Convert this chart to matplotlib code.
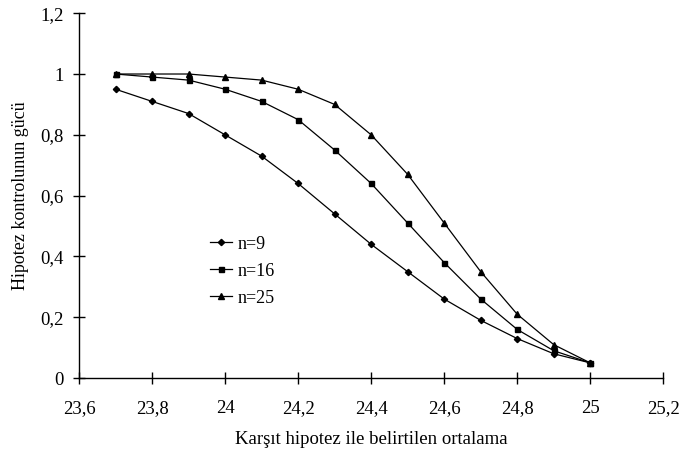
import matplotlib.pyplot as plt
from matplotlib.ticker import FuncFormatter, MultipleLocator

plt.rcParams["font.family"] = ["Liberation Serif", "DejaVu Serif"]

x_mean = [23.7, 23.8, 23.9, 24.0, 24.1, 24.2, 24.3, 24.4, 24.5, 24.6, 24.7, 24.8, 24.9, 25.0]
power_n9 = [0.95, 0.91, 0.87, 0.80, 0.73, 0.64, 0.54, 0.44, 0.35, 0.26, 0.19, 0.13, 0.08, 0.05]
power_n16 = [1.00, 0.99, 0.98, 0.95, 0.91, 0.85, 0.75, 0.64, 0.51, 0.38, 0.26, 0.16, 0.09, 0.05]
power_n25 = [1.00, 1.00, 1.00, 0.99, 0.98, 0.95, 0.90, 0.80, 0.67, 0.51, 0.35, 0.21, 0.11, 0.05]

fig = plt.figure(figsize=(6.81, 4.55), dpi=100)
ax = fig.add_axes([0.116, 0.169, 0.858, 0.802])

ax.plot(x_mean, power_n9, color="black", lw=0.9, marker="D", ms=3.2, label="n=9")
ax.plot(x_mean, power_n16, color="black", lw=0.9, marker="s", ms=3.6, label="n=16")
ax.plot(x_mean, power_n25, color="black", lw=0.9, marker="^", ms=4.6, label="n=25")

ax.set_xlim(23.6, 25.2)
ax.set_ylim(0, 1.2)
ax.xaxis.set_major_locator(MultipleLocator(0.2))
ax.yaxis.set_major_locator(MultipleLocator(0.2))


def comma_fmt(v, pos):
    s = f"{v:.1f}"
    if s.endswith(".0"):
        s = s[:-2]
    return s.replace(".", ",")


ax.xaxis.set_major_formatter(FuncFormatter(comma_fmt))
ax.yaxis.set_major_formatter(FuncFormatter(comma_fmt))

for side in ("top", "right"):
    ax.spines[side].set_visible(False)
ax.spines["left"].set_linewidth(1.0)
ax.spines["bottom"].set_linewidth(1.0)
ax.tick_params(direction="inout", length=8, width=1.0, labelsize=13.5)
ax.tick_params(axis="y", pad=7)
ax.tick_params(axis="x", pad=12)

ax.set_xlabel("Karşıt hipotez ile belirtilen ortalama", fontsize=13.5, labelpad=10)
ax.set_ylabel("Hipotez kontrolunun gücü", fontsize=13, labelpad=8)

ax.legend(loc="upper left", bbox_to_anchor=(0.224, 0.39), frameon=False,
          fontsize=13, handlelength=1.25, handletextpad=0.3, labelspacing=0.55,
          borderpad=0, borderaxespad=0)

fig.savefig("out.png", dpi=100)
